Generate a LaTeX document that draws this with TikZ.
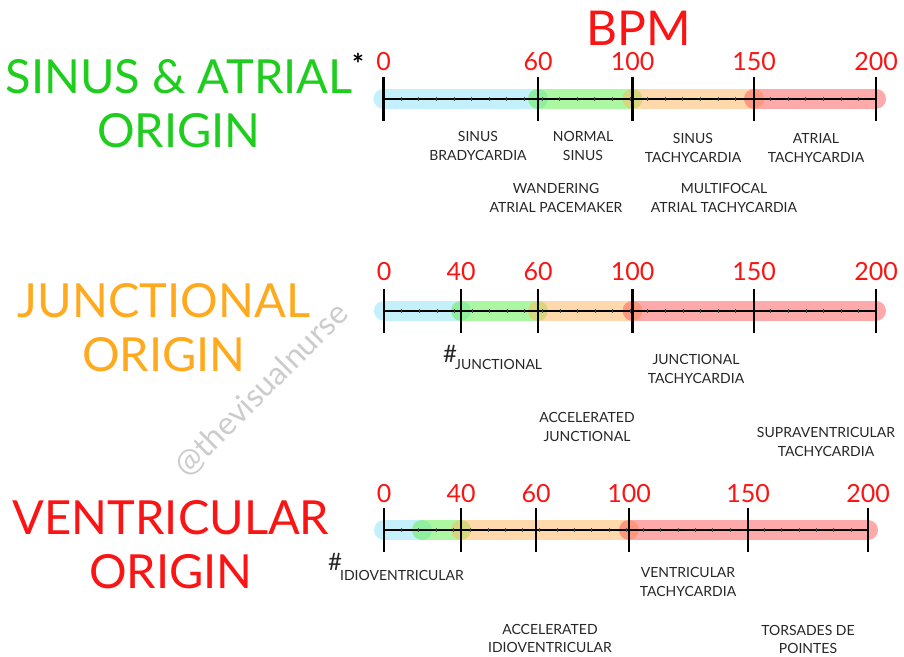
\documentclass[tikz,border=0pt]{standalone}
\usepackage{fontspec}
\setmainfont{Lato}
\usepackage{tikz}
\usetikzlibrary{calc}

\definecolor{bpmred}{RGB}{250,20,20}
\definecolor{sinusgreen}{RGB}{30,205,30}
\definecolor{junctorange}{RGB}{255,170,30}
\definecolor{bandblue}{RGB}{135,225,245}
\definecolor{bandgreen}{RGB}{90,240,70}
\definecolor{bandorange}{RGB}{255,180,90}
\definecolor{bandred}{RGB}{255,85,85}

\newcommand{\hashsize}{\fontsize{24}{24}\selectfont}

\tikzset{
  band/.style={line width=20pt, line cap=round, opacity=0.5},
  majortick/.style={line width=2.2pt},
  minortick/.style={line width=0.4pt, black!70},
  axisline/.style={line width=2pt},
  bpmlabel/.style={inner sep=0pt, text=bpmred, font=\fontsize{25}{25}\selectfont},
  rhythm/.style={inner sep=0pt, align=center, text=black!85, font=\fontsize{14}{18.5}\selectfont},
  origin/.style={inner sep=0pt, align=center, font=\fontsize{47}{54}\selectfont},
}

\begin{document}
\begin{tikzpicture}[x=1pt,y=-1pt]
\useasboundingbox (0,0) rectangle (904,656);

% watermark
\node[inner sep=0pt, rotate=45, text=black!20, font=\fontsize{32}{32}\selectfont] (mark) at (262,390) {@thevisualnurse};

% titles
\node[inner sep=0pt, text=bpmred, font=\fontsize{48}{48}\selectfont] (bpm) at (639,28) {BPM};
\node[origin, text=sinusgreen] (sinus) at (179,104) {SINUS \& ATRIAL\\ORIGIN};
\node[inner sep=0pt, font=\bfseries\fontsize{28}{28}\selectfont] (star) at (358,64) {*};
\node[origin, text=junctorange] (junct) at (164,327.5) {JUNCTIONAL\\ORIGIN};
\node[origin, text=bpmred] (ventr) at (171,544.5) {VENTRICULAR\\ORIGIN};

% sinus & atrial row
\coordinate (r1start) at (383.5,98.5);
\coordinate (r1end) at (876,98.5);
\foreach \a/\b/\c in {383.5/538/bandblue, 538/632.5/bandgreen, 632.5/754/bandorange, 754/876/bandred}
  \draw[band, \c] (\a,98.5) -- (\b,98.5);
\draw[axisline] (r1start) -- (r1end);
\foreach \i in {1,...,27}
  \draw[minortick] ($(r1start)!\i/28!(r1end)$) ++(0,-2) -- ++(0,4);
\foreach \x/\v in {383.5/0, 538/60, 632.5/100, 754/150, 876/200}
  {
  \draw[majortick] (\x,76.5) -- (\x,120.5);
  \node[bpmlabel] (r1n\v) at (\x,62) {\v};
  }
\node[rhythm] (sbrady) at (478,146) {SINUS\\BRADYCARDIA};
\node[rhythm] (normal) at (583,146) {NORMAL\\SINUS};
\node[rhythm] (stachy) at (693,148) {SINUS\\TACHYCARDIA};
\node[rhythm] (atachy) at (816,148) {ATRIAL\\TACHYCARDIA};
\node[rhythm] (wander) at (556,198) {WANDERING\\ATRIAL PACEMAKER};
\node[rhythm] (multi) at (724,198) {MULTIFOCAL\\ATRIAL TACHYCARDIA};

% junctional row
\coordinate (r2start) at (384,310.5);
\coordinate (r2end) at (876,310.5);
\foreach \a/\b/\c in {384/461/bandblue, 461/538/bandgreen, 538/632.5/bandorange, 632.5/876/bandred}
  \draw[band, \c] (\a,310.5) -- (\b,310.5);
\draw[axisline] (r2start) -- (r2end);
\foreach \i in {1,...,27}
  \draw[minortick] ($(r2start)!\i/28!(r2end)$) ++(0,-2) -- ++(0,4);
\foreach \x/\v in {384/0, 461/40, 538/60, 632.5/100, 754/150, 876/200}
  {
  \draw[majortick] (\x,288.5) -- (\x,332.5);
  \node[bpmlabel] (r2n\v) at (\x,272) {\v};
  }
\node[rhythm, anchor=base west] (junctional) at (443,362)
  {{\hashsize\#}\kern-2pt\raisebox{-7pt}{JUNCTIONAL}};
\node[rhythm] (jtachy) at (696,369) {JUNCTIONAL\\TACHYCARDIA};
\node[rhythm] (accjunct) at (587,427) {ACCELERATED\\JUNCTIONAL};
\node[rhythm] (svt) at (826,442) {SUPRAVENTRICULAR\\TACHYCARDIA};

% ventricular row
\coordinate (r3start) at (384,530);
\coordinate (r3end) at (868,530);
\foreach \a/\b/\c in {384/422/bandblue, 422/461/bandgreen, 461/629/bandorange, 629/868/bandred}
  \draw[band, \c] (\a,530) -- (\b,530);
\draw[axisline] (r3start) -- (r3end);
\foreach \i in {1,...,27}
  \draw[minortick] ($(r3start)!\i/28!(r3end)$) ++(0,-2) -- ++(0,4);
\foreach \x/\v in {384/0, 461/40, 536/60, 629/100, 748/150, 868/200}
  {
  \draw[majortick] (\x,508) -- (\x,552);
  \node[bpmlabel] (r3n\v) at (\x,494) {\v};
  }
\node[rhythm, anchor=base west] (idio) at (328,570)
  {{\hashsize\#}\kern-2pt\raisebox{-10pt}{IDIOVENTRICULAR}};
\node[rhythm] (vtachy) at (688,582) {VENTRICULAR\\TACHYCARDIA};
\node[rhythm] (accidio) at (550,638.5) {ACCELERATED\\IDIOVENTRICULAR};
\node[rhythm] (torsades) at (808,639.5) {TORSADES DE\\POINTES};
\end{tikzpicture}
\end{document}
